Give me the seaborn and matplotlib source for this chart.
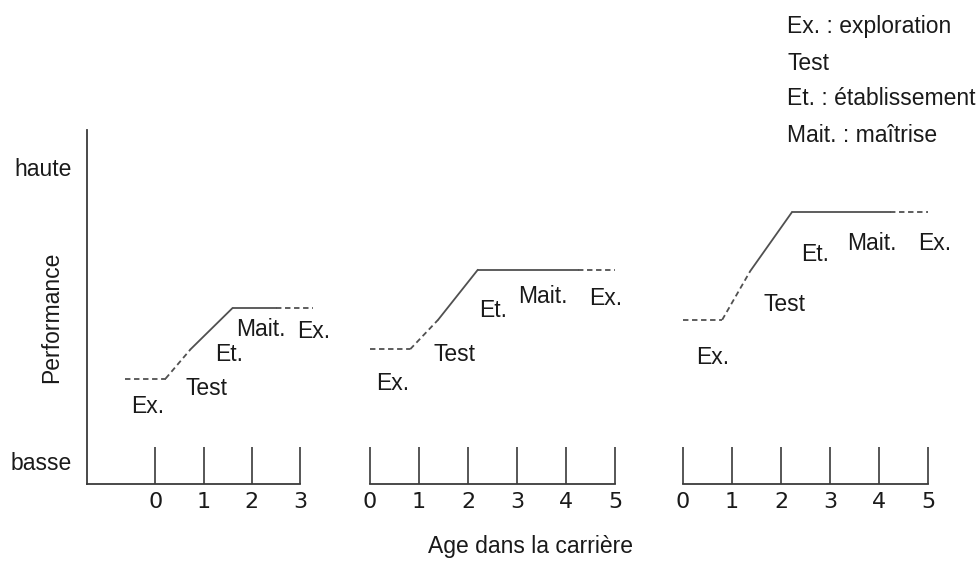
import numpy as np
import pandas as pd
import seaborn as sns
import matplotlib.pyplot as plt

# three career cycles: age in the career vs performance (0 = basse, 10 = haute)
AGE_1 = [-0.63, 0.21, 0.73, 1.6, 2.5, 3.27]
PERF_1 = [2.8, 2.8, 3.8, 5.2, 5.2, 5.2]
AGE_2 = [0.0, 0.82, 1.39, 2.2, 4.24, 5.0]
PERF_2 = [3.8, 3.8, 4.8, 6.5, 6.5, 6.5]
AGE_3 = [0.0, 0.8, 1.37, 2.22, 4.22, 5.0]
PERF_3 = [4.8, 4.8, 6.45, 8.45, 8.45, 8.45]

TICKS_1 = [0, 1, 2, 3]
TICKS_2 = [0, 1, 2, 3, 4, 5]
TICKS_3 = [0, 1, 2, 3, 4, 5]

PHASES = ['Ex.', 'Test', 'Et.', 'Mait.', 'Ex.']
LABEL_AGE_1 = [-0.17, 1.06, 1.52, 2.19, 3.28]
LABEL_PERF_1 = [1.86, 2.47, 3.63, 4.47, 4.4]
LABEL_AGE_2 = [0.47, 1.73, 2.51, 3.53, 4.82]
LABEL_PERF_2 = [2.64, 3.63, 5.12, 5.59, 5.53]
LABEL_AGE_3 = [0.61, 2.08, 2.69, 3.86, 5.14]
LABEL_PERF_3 = [3.53, 5.32, 7.02, 7.39, 7.39]

LEGEND_LINES = ['Ex. : exploration', 'Test', 'Et. : établissement', 'Mait. : maîtrise']

SEG_STYLE = [(0, (3, 2)), (0, (3, 2)), '-', '-', (0, (3, 2))]
LINE_COLOR = '#505050'
AXIS_COLOR = '#3a3a3a'
TEXT_COLOR = '#1a1a1a'
FONT = 'Liberation Sans'
FS = 16.5

W, H = 980, 568
YLIM = (-0.78, 11.25)


def px_axes(fig, left, right, top=130, bottom=484):
    """Adds an axes placed with pixel coordinates."""
    return fig.add_axes([left / W, 1 - bottom / H, (right - left) / W, (bottom - top) / H])


def draw_panel(ax, ages, perfs, ticks, lab_x, lab_y, xlim):
    for i, style in enumerate(SEG_STYLE):
        seg = pd.DataFrame({'age': ages[i:i + 2], 'perf': perfs[i:i + 2]})
        sns.lineplot(data=seg, x='age', y='perf', ax=ax, color=LINE_COLOR,
                     linewidth=1.3, linestyle=style, estimator=None, sort=False,
                     clip_on=False)
    for name, x, y in zip(PHASES, lab_x, lab_y):
        ax.text(x, y, name, ha='center', va='center', fontsize=FS,
                family=FONT, color=TEXT_COLOR)
    ax.set_xlim(*xlim)
    ax.set_ylim(*YLIM)
    ax.set_xticks(ticks)
    ax.set_xticklabels([str(t) for t in ticks], family='DejaVu Sans',
                       fontsize=16, color=TEXT_COLOR)
    ax.tick_params(axis='x', bottom=True, direction='in', length=27, width=1.2,
                   color=AXIS_COLOR, pad=6)
    ax.spines['bottom'].set_color(AXIS_COLOR)
    ax.spines['bottom'].set_linewidth(1.3)
    for s in ['top', 'right']:
        ax.spines[s].set_visible(False)
    ax.set_xlabel('')
    ax.set_ylabel('')
    ax.patch.set_alpha(0)


sns.set_style('white')
fig = plt.figure(figsize=(W / 100, H / 100), dpi=100)

ax1 = px_axes(fig, 87, 300)
draw_panel(ax1, AGE_1, PERF_1, TICKS_1, LABEL_AGE_1, LABEL_PERF_1, (-1.42, 3))
ax1.spines['left'].set_color(AXIS_COLOR)
ax1.spines['left'].set_linewidth(1.3)
ax1.set_yticks([0, 10])
ax1.set_yticklabels(['basse', 'haute'], family=FONT, fontsize=FS, color=TEXT_COLOR)
ax1.tick_params(axis='y', left=False, length=0, pad=11)

ax2 = px_axes(fig, 370, 615)
draw_panel(ax2, AGE_2, PERF_2, TICKS_2, LABEL_AGE_2, LABEL_PERF_2, (0, 5))
ax2.spines['left'].set_visible(False)
ax2.set_yticks([])

ax3 = px_axes(fig, 683, 928)
draw_panel(ax3, AGE_3, PERF_3, TICKS_3, LABEL_AGE_3, LABEL_PERF_3, (0, 5))
ax3.spines['left'].set_visible(False)
ax3.set_yticks([])

fig.text(52 / W, 1 - 317 / H, 'Performance', rotation=90, ha='center', va='center',
         family=FONT, fontsize=FS, color=TEXT_COLOR)
fig.text(530 / W, 1 - 546 / H, 'Age dans la carrière', ha='center', va='center',
         family=FONT, fontsize=FS, color=TEXT_COLOR)

for i, line in enumerate(LEGEND_LINES):
    fig.text(787 / W, 1 - (27 + 36 * i) / H, line, ha='left', va='center',
             family=FONT, fontsize=FS, color=TEXT_COLOR)

fig.savefig('out.png', dpi=100, facecolor='white')
